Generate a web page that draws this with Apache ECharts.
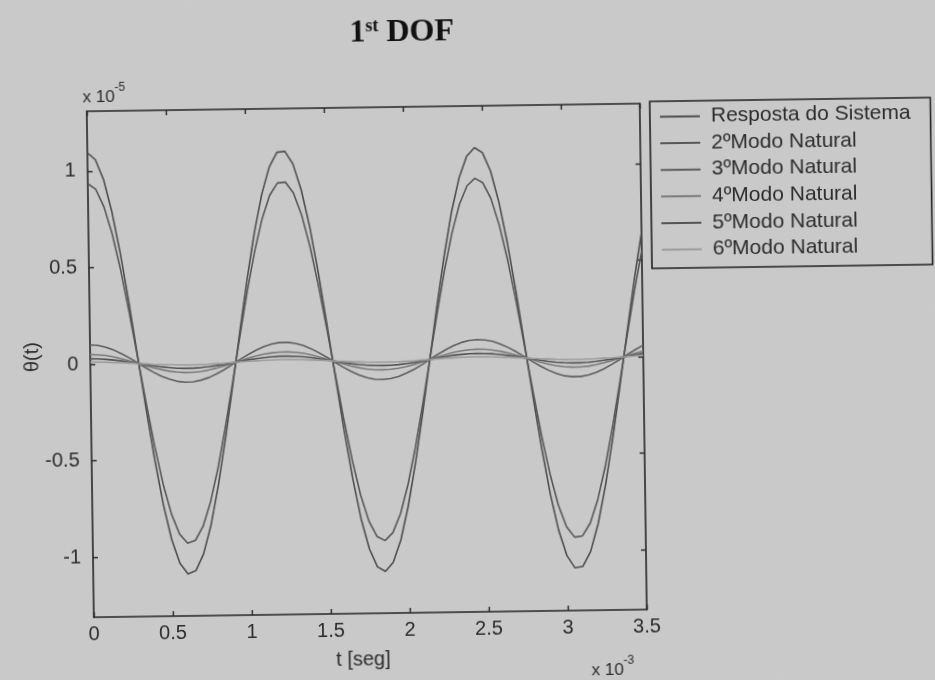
<!DOCTYPE html>
<html><head><meta charset="utf-8">
<script src="https://cdn.jsdelivr.net/npm/echarts@6/dist/echarts.min.js"></script>
<style>
html,body{margin:0;padding:0;background:#c9c9c9;overflow:hidden}
#chart{width:935px;height:680px;transform:rotate(-0.8deg);transform-origin:50% 50%}
</style></head><body><div id="chart"></div>
<script>
// time axis values (x 10^-3 s)
const t = [0,0.05,0.1,0.15,0.2,0.25,0.3,0.35,0.4,0.45,0.5,0.55,0.6,0.65,0.7,0.75,0.8,0.85,0.9,0.95,1,1.05,1.1,1.15,1.2,1.25,1.3,1.35,1.4,1.45,1.5,1.55,1.6,1.65,1.7,1.75,1.8,1.85,1.9,1.95,2,2.05,2.1,2.15,2.2,2.25,2.3,2.35,2.4,2.45,2.5,2.55,2.6,2.65,2.7,2.75,2.8,2.85,2.9,2.95,3,3.05,3.1,3.15,3.2,3.25,3.3,3.35,3.4,3.45,3.5];

// theta(t) values (x 10^-5)
const resposta = [1.095,1.059,0.955,0.788,0.570,0.315,0.039,-0.239,-0.502,-0.732,-0.914,-1.037,-1.092,-1.076,-0.991,-0.841,-0.635,-0.389,-0.117,0.162,0.431,0.671,0.868,1.009,1.084,1.088,1.022,0.888,0.698,0.461,0.195,-0.084,-0.358,-0.608,-0.819,-0.976,-1.070,-1.094,-1.047,-0.932,-0.756,-0.531,-0.272,0.006,0.283,0.541,0.765,0.938,1.050,1.094,1.067,0.971,0.811,0.598,0.347,0.073,-0.206,-0.472,-0.706,-0.895,-1.026,-1.089,-1.082,-1.005,-0.862,-0.663,-0.420,-0.151,0.129,0.400,0.645];
const modo2 = [0.935,0.905,0.815,0.673,0.487,0.269,0.033,-0.204,-0.428,-0.625,-0.780,-0.885,-0.933,-0.919,-0.846,-0.718,-0.543,-0.332,-0.100,0.138,0.368,0.573,0.741,0.862,0.925,0.929,0.872,0.759,0.596,0.394,0.167,-0.072,-0.305,-0.519,-0.699,-0.833,-0.913,-0.934,-0.894,-0.796,-0.646,-0.454,-0.232,0.005,0.241,0.462,0.653,0.801,0.897,0.935,0.911,0.829,0.692,0.511,0.296,0.062,-0.176,-0.403,-0.603,-0.764,-0.876,-0.930,-0.924,-0.858,-0.736,-0.566,-0.359,-0.129,0.110,0.341,0.550];
const modo3 = [0.100,0.097,0.087,0.072,0.052,0.029,0.004,-0.022,-0.046,-0.067,-0.083,-0.095,-0.100,-0.098,-0.090,-0.077,-0.058,-0.036,-0.011,0.015,0.039,0.061,0.079,0.092,0.099,0.099,0.093,0.081,0.064,0.042,0.018,-0.008,-0.033,-0.056,-0.075,-0.089,-0.098,-0.100,-0.096,-0.085,-0.069,-0.049,-0.025,0.001,0.026,0.049,0.070,0.086,0.096,0.100,0.097,0.089,0.074,0.055,0.032,0.007,-0.019,-0.043,-0.064,-0.082,-0.094,-0.099,-0.099,-0.092,-0.079,-0.061,-0.038,-0.014,0.012,0.036,0.059];
const modo4 = [0.050,0.048,0.044,0.036,0.026,0.014,0.002,-0.011,-0.023,-0.033,-0.042,-0.047,-0.050,-0.049,-0.045,-0.038,-0.029,-0.018,-0.005,0.007,0.020,0.031,0.040,0.046,0.049,0.050,0.047,0.041,0.032,0.021,0.009,-0.004,-0.016,-0.028,-0.037,-0.045,-0.049,-0.050,-0.048,-0.043,-0.035,-0.024,-0.012,0.000,0.013,0.025,0.035,0.043,0.048,0.050,0.049,0.044,0.037,0.027,0.016,0.003,-0.009,-0.022,-0.032,-0.041,-0.047,-0.050,-0.049,-0.046,-0.039,-0.030,-0.019,-0.007,0.006,0.018,0.029];
const modo5 = [0.028,0.027,0.024,0.020,0.015,0.008,0.001,-0.006,-0.013,-0.019,-0.023,-0.027,-0.028,-0.028,-0.025,-0.021,-0.016,-0.010,-0.003,0.004,0.011,0.017,0.022,0.026,0.028,0.028,0.026,0.023,0.018,0.012,0.005,-0.002,-0.009,-0.016,-0.021,-0.025,-0.027,-0.028,-0.027,-0.024,-0.019,-0.014,-0.007,0.000,0.007,0.014,0.020,0.024,0.027,0.028,0.027,0.025,0.021,0.015,0.009,0.002,-0.005,-0.012,-0.018,-0.023,-0.026,-0.028,-0.028,-0.026,-0.022,-0.017,-0.011,-0.004,0.003,0.010,0.016];
const modo6 = [0.010,0.010,0.009,0.007,0.005,0.003,0.000,-0.002,-0.005,-0.007,-0.008,-0.009,-0.010,-0.010,-0.009,-0.008,-0.006,-0.004,-0.001,0.001,0.004,0.006,0.008,0.009,0.010,0.010,0.009,0.008,0.006,0.004,0.002,-0.001,-0.003,-0.006,-0.007,-0.009,-0.010,-0.010,-0.010,-0.009,-0.007,-0.005,-0.002,0.000,0.003,0.005,0.007,0.009,0.010,0.010,0.010,0.009,0.007,0.005,0.003,0.001,-0.002,-0.004,-0.006,-0.008,-0.009,-0.010,-0.010,-0.009,-0.008,-0.006,-0.004,-0.001,0.001,0.004,0.006];

const seriesNames = ['Resposta do Sistema','2ºModo Natural','3ºModo Natural','4ºModo Natural','5ºModo Natural','6ºModo Natural'];
const seriesValues = [resposta, modo2, modo3, modo4, modo5, modo6];
const seriesColors = ['#4e4e4e','#575757','#5f5f5f','#7c7c7c','#545454','#9c9c9c'];
const yTickValues = [-1,-0.5,0,0.5,1];

const FONT = '"Liberation Sans", Arial, sans-serif';
const AX = '#262626';
const TXT = '#2c2c2c';

const chart = echarts.init(document.getElementById('chart'));

const axisCommon = {
  axisLine:{show:true,onZero:false,lineStyle:{color:AX,width:1.6}},
  splitLine:{show:false}
};

chart.setOption({
  animation:false,
  backgroundColor:'#c9c9c9',
  grid:{left:90,top:106,right:292,bottom:68},
  legend:{
    orient:'vertical', left:653, top:104,
    data:seriesNames, selectedMode:false,
    icon:'rect', itemWidth:40, itemHeight:2, itemGap:5.6,
    padding:[5,20,8,10],
    borderColor:'#222', borderWidth:1.6, backgroundColor:'#c9c9c9',
    textStyle:{fontFamily:FONT,fontSize:21,color:TXT,padding:[0,0,0,6]}
  },
  xAxis:[
    Object.assign({type:'value',min:0,max:3.5,interval:0.5,position:'bottom',
      axisTick:{show:true,inside:true,length:5,lineStyle:{color:AX,width:1.4}},
      axisLabel:{fontFamily:FONT,fontSize:20,color:TXT,margin:7,formatter:v=>String(v)}},axisCommon),
    Object.assign({type:'value',min:0,max:3.5,interval:0.5,position:'top',
      axisTick:{show:true,inside:true,length:5,lineStyle:{color:AX,width:1.4}},
      axisLabel:{show:false}},axisCommon)
  ],
  yAxis:[
    Object.assign({type:'value',min:-1.31,max:1.31,position:'left',
      axisTick:{show:true,inside:true,length:5,customValues:yTickValues,lineStyle:{color:AX,width:1.4}},
      axisLabel:{fontFamily:FONT,fontSize:20,color:TXT,margin:12,customValues:yTickValues,formatter:v=>String(v)}},axisCommon),
    Object.assign({type:'value',min:-1.31,max:1.31,position:'right',
      axisTick:{show:true,inside:true,length:5,customValues:yTickValues,lineStyle:{color:AX,width:1.4}},
      axisLabel:{show:false,customValues:yTickValues}},axisCommon)
  ],
  graphic:[
    {type:'text',x:406,y:32,style:{text:'{a|1}{b|st}{a| DOF}',align:'center',verticalAlign:'middle',fill:'#111',
      rich:{a:{fontFamily:'"Liberation Serif", serif',fontWeight:'bold',fontSize:32,fill:'#111'},
            b:{fontFamily:'"Liberation Serif", serif',fontWeight:'bold',fontSize:18,verticalAlign:'top',fill:'#111'}}}},
    {type:'text',x:86,y:92,style:{text:'x 10',font:'17px '+FONT,fill:TXT,verticalAlign:'middle'}},
    {type:'text',x:118,y:83,style:{text:'-5',font:'12px '+FONT,fill:TXT,verticalAlign:'middle'}},
    {type:'text',x:587,y:672,style:{text:'x 10',font:'17px '+FONT,fill:TXT,verticalAlign:'middle'}},
    {type:'text',x:619,y:663,style:{text:'-3',font:'12px '+FONT,fill:TXT,verticalAlign:'middle'}},
    {type:'text',x:359,y:658,style:{text:'t [seg]',font:'20px '+FONT,fill:TXT,align:'center',verticalAlign:'middle'}},
    {type:'text',x:32,y:351,rotation:Math.PI/2,style:{text:'θ(t)',font:'20px '+FONT,fill:TXT,align:'center',verticalAlign:'middle'}}
  ],
  series:seriesNames.map((name,i)=>({
    name:name,type:'line',xAxisIndex:0,yAxisIndex:0,
    showSymbol:false,symbol:'none',smooth:false,
    color:seriesColors[i],
    lineStyle:{color:seriesColors[i],width:1.6},
    data:t.map((x,j)=>[x,seriesValues[i][j]])
  }))
});
</script></body></html>
